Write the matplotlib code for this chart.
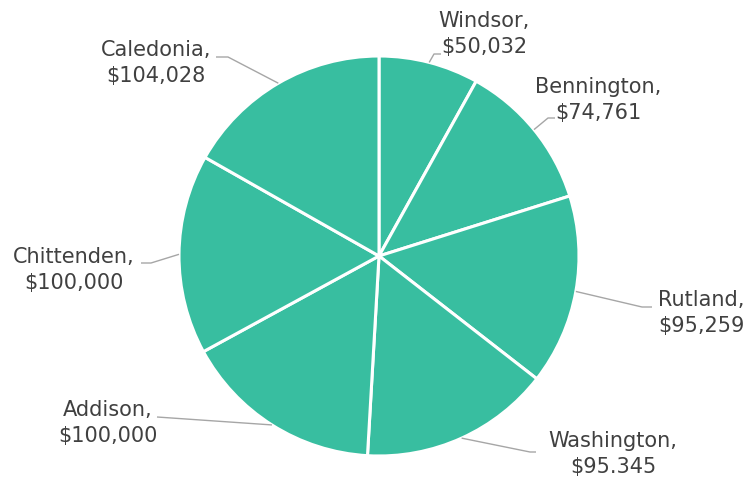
import numpy as np
import matplotlib
matplotlib.use("Agg")
import matplotlib.pyplot as plt

counties = ["Windsor", "Bennington", "Rutland", "Washington", "Addison", "Chittenden", "Caledonia"]
values = [50032, 74761, 95259, 95345, 100000, 100000, 104028]
value_labels = ["$50,032", "$74,761", "$95,259", "$95.345", "$100,000", "$100,000", "$104,028"]

W, H = 748, 478
fig = plt.figure(figsize=(W / 100, H / 100), dpi=100)
ax = fig.add_axes([0, 0, 1, 1])
ax.set_xlim(0, W)
ax.set_ylim(0, H)
ax.axis("off")

cx, cy, R = 379, H - 256, 200
wedges, _ = ax.pie(values, startangle=90, counterclock=False, center=(cx, cy), radius=R,
                   colors=["#38bea0"] * len(values),
                   wedgeprops=dict(edgecolor="white", linewidth=2.2))
ax.set_xlim(0, W)
ax.set_ylim(0, H)
ax.set_aspect("auto")

# layout: (elbow point, line end point, text center x, text center y) in pixel coords
layout = [
    ((434, 54), (441, 54), 484, 34),
    ((548, 118), (555, 118), 598, 100),
    ((642, 307), (652, 307), 701, 313),
    ((530, 452), (536, 452), 613, 454),
    ((157, 417), (157, 417), 108, 423),
    ((151, 263), (141, 263), 74, 270),
    ((228, 57), (216, 57), 156, 63),
]

for w, name, vl, (elb, end, tx, ty) in zip(wedges, counties, value_labels, layout):
    mid = np.deg2rad((w.theta1 + w.theta2) / 2)
    ex, ey = cx + R * np.cos(mid), cy + R * np.sin(mid)
    ax.plot([ex, elb[0], end[0]], [ey, H - elb[1], H - end[1]], color="#a6a6a6", lw=1.0,
            solid_capstyle="butt", zorder=1)
    ax.text(tx, H - ty, f"{name},\n{vl}", ha="center", va="center", fontsize=15,
            color="#404040", linespacing=1.4, family="DejaVu Sans")

fig.savefig("out.png", dpi=100)
